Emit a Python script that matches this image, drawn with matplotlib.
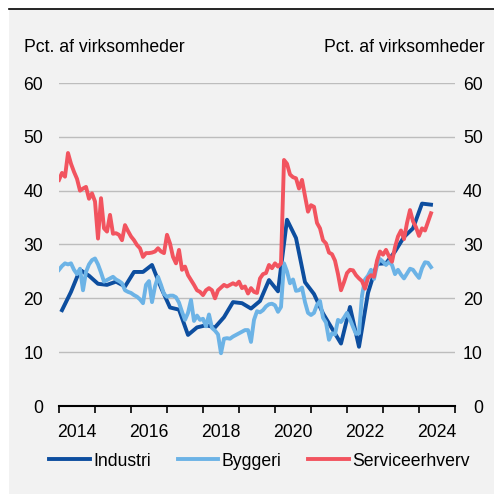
import matplotlib
matplotlib.use('Agg')
import matplotlib.pyplot as plt
from matplotlib.patches import Rectangle
import numpy as np

plt.rcParams['font.family'] = ['Liberation Sans', 'DejaVu Sans']

# Data, monthly from Jan 2014, Industri quarterly
serviceerhverv = [
    42.0, 43.3, 42.6, 47.0, 45.0, 43.5, 42.2, 40.0, 40.4, 40.7,
    38.5, 39.5, 38.0, 31.1, 38.6, 33.0, 32.4, 35.5, 32.0, 32.1,
    31.8, 30.8, 33.6, 32.5, 31.5, 30.8, 29.9, 29.3, 27.7, 28.4,
    28.4, 28.5, 28.7, 29.3, 28.7, 28.4, 31.8, 30.2, 27.7, 26.5,
    29.0, 25.3, 25.9, 24.3, 23.4, 22.5, 21.5, 21.2, 20.6, 21.5,
    21.9, 21.5, 20.0, 21.5, 22.0, 22.5, 22.2, 22.5, 22.8, 22.5,
    23.1, 21.9, 22.2, 20.9, 21.9, 21.2, 21.0, 23.7, 24.5, 24.7,
    26.2, 25.6, 26.5, 25.9, 26.5, 45.7, 45.0, 43.0, 42.5, 42.3,
    40.4, 42.0, 39.0, 36.1, 37.3, 37.0, 34.0, 33.0, 30.8, 30.2,
    28.5, 28.2, 27.0, 24.5, 21.5, 23.0, 24.7, 25.3, 25.2, 24.3,
    23.7, 23.2, 21.8, 23.8, 24.3, 24.0, 27.0, 28.7, 28.1, 29.0,
    27.8, 26.8, 29.5, 31.5, 32.6, 31.0, 34.0, 36.4, 34.3, 33.2,
    31.6, 33.0, 32.6, 34.2, 35.8,
]
byggeri = [
    25.3, 26.0, 26.5, 26.3, 26.5, 25.3, 24.5, 25.5, 21.5, 24.9,
    26.3, 27.1, 27.4, 26.3, 24.8, 23.1, 23.4, 23.7, 24.0, 23.5,
    23.2, 22.8, 21.5, 21.2, 21.0, 20.6, 20.3, 19.8, 19.1, 22.5,
    23.2, 19.3, 22.2, 24.0, 22.5, 20.8, 20.3, 20.5, 20.5, 20.2,
    19.2, 17.5, 16.0, 17.3, 19.7, 15.8, 16.8, 16.0, 16.2, 14.8,
    17.0, 14.5, 14.0, 13.3, 9.8, 12.5, 12.6, 12.5, 12.9, 13.2,
    13.5, 13.8, 14.1, 14.1, 11.9, 16.0, 17.6, 17.4, 17.8, 18.5,
    18.9, 19.0, 18.7, 17.5, 18.4, 26.5, 25.0, 22.8, 23.5, 21.4,
    21.5, 22.0, 19.3, 17.3, 16.9, 17.3, 18.8, 19.5, 16.4, 15.5,
    12.3, 13.5, 13.3, 16.0, 15.6, 16.4, 17.3, 16.1, 14.7, 13.4,
    13.5, 20.5, 23.5, 24.2, 25.3, 23.6, 26.2, 27.3, 26.8, 26.2,
    26.8, 26.2, 24.5, 25.3, 24.4, 23.7, 24.6, 25.5, 25.3, 24.5,
    23.8, 25.6, 26.7, 26.6, 25.8,
]
industri = [
    17.8, 21.2, 25.3, 24.2, 22.7, 22.5, 23.1, 22.2, 24.9, 24.9,
    26.2, 22.0, 18.3, 17.9, 13.2, 14.6, 15.0, 14.6, 16.5, 19.3,
    19.1, 18.1, 19.5, 23.4, 21.3, 34.6, 31.2, 23.0, 20.8, 17.2,
    14.4, 11.6, 18.4, 11.0, 21.0, 26.4, 26.5, 28.7, 31.4, 33.0,
    37.6, 37.4,
]
year_labels = ['2014', '2016', '2018', '2020', '2022', '2024']

t_month = 2014 + np.arange(len(serviceerhverv)) / 12
t_quarter = 2014 + (3 * np.arange(len(industri)) + 1) / 12

bg = '#f2f2f2'
W = 494

fig = plt.figure(figsize=(4.94, 4.94), dpi=100, facecolor='white')
fig.patches.append(Rectangle((9 / W, 0), 1, 1 - 9 / W, transform=fig.transFigure,
                             facecolor=bg, edgecolor='none', zorder=-10))
fig.lines.append(plt.Line2D([9 / W, 1], [1 - 9 / W, 1 - 9 / W], transform=fig.transFigure,
                            color='black', lw=1.2))

ax = fig.add_axes([59 / W, 1 - 406 / W, 396 / W, 323 / W])
ax.set_facecolor(bg)

ax.plot(t_quarter, industri, color='#0d4e9f', lw=2.8, label='Industri', zorder=3)
ax.plot(t_month, byggeri, color='#6cb3e6', lw=2.8, label='Byggeri', zorder=3)
ax.plot(t_month, serviceerhverv, color='#f2545f', lw=2.8, label='Serviceerhverv', zorder=3)

ax.set_xlim(2014, 2025)
ax.set_ylim(0, 60)
ax.set_xticks(np.arange(2014, 2026))
ax.set_xticklabels([])
ax.set_xticks(np.arange(2014.5, 2025, 2), labels=year_labels, minor=True)
ax.tick_params(axis='x', which='major', length=5, width=1.2, color='black', direction='out')
ax.tick_params(axis='x', which='minor', length=0, pad=13, labelsize=12.7)

ax.set_yticks(range(0, 61, 10))
ax.tick_params(axis='y', length=0, pad=11.5, labelsize=12.7)
ax.grid(axis='y', color='#bdbdbd', lw=1.0, zorder=1)
ax.set_axisbelow(True)

for s in ['left', 'right', 'top']:
    ax.spines[s].set_visible(False)
ax.spines['bottom'].set_linewidth(1.5)
ax.spines['bottom'].set_zorder(4)

# right-hand axis labels
ax2 = ax.twinx()
ax2.set_ylim(0, 60)
ax2.set_yticks(range(0, 61, 10))
ax2.tick_params(axis='y', length=0, pad=20, labelsize=12.7)
for tk in ax2.yaxis.get_major_ticks():
    tk.label2.set_horizontalalignment('right')
for s in ['left', 'right', 'top', 'bottom']:
    ax2.spines[s].set_visible(False)

fig.text(24 / W, 1 - 47 / W, 'Pct. af virksomheder', ha='left', va='center', fontsize=12.7)
fig.text(485 / W, 1 - 47 / W, 'Pct. af virksomheder', ha='right', va='center', fontsize=12.7)

handles, labels = ax.get_legend_handles_labels()
fig.legend(handles, labels, loc='center', bbox_to_anchor=(259.5 / W, 1 - 461 / W),
           ncol=3, frameon=False, fontsize=12.7, handlelength=2.3,
           handletextpad=0.2, columnspacing=1.5)

fig.savefig('out.png', dpi=100, facecolor=fig.get_facecolor())
